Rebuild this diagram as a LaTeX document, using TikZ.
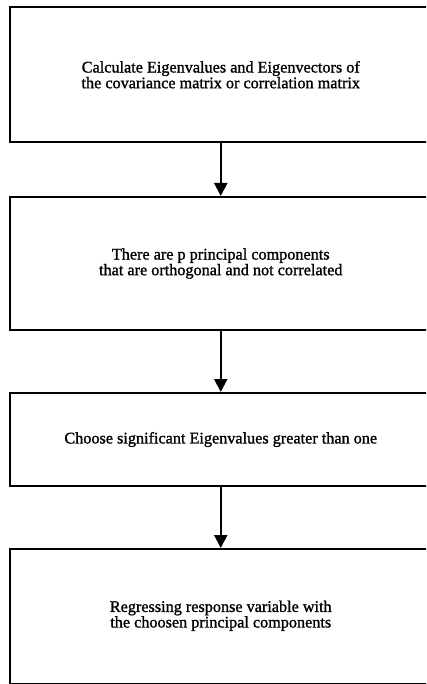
\documentclass[tikz,border=0pt]{standalone}
\usepackage{fontspec}
\setmainfont{Liberation Serif}
\newfontfamily\heavyserif{Liberation Serif}[FakeBold=1.2]
\usetikzlibrary{arrows.meta}
\begin{document}
\begin{tikzpicture}[x=1pt,y=-1pt,
  box/.style={draw=black, line width=2pt, minimum width=422.5pt, align=center,
    font=\heavyserif\fontsize{16.2}{14.5}\selectfont, inner sep=0pt},
  flow/.style={draw=black, line width=2pt, -{Triangle[width=13pt,length=13pt]}}]
\useasboundingbox (0,0) rectangle (426,684);
\clip (0,0) rectangle (426,684);
\node[box, minimum height=134.5pt] (b1) at (220.75,74.75)
  {Calculate Eigenvalues and Eigenvectors of\\the covariance matrix or correlation matrix};
\node[box, minimum height=133pt] (b2) at (220.75,263.5)
  {There are p principal components\\that are orthogonal and not correlated};
\node[box, minimum height=93pt] (b3) at (220.75,439.5)
  {Choose significant Eigenvalues greater than one};
\node[box, minimum height=134.5pt] (b4) at (220.75,616.25)
  {\raisebox{6pt}{\begin{tabular}{@{}c@{}}Regressing response variable with\\the choosen principal components\end{tabular}}};
\draw[flow] (b1) -- (b2);
\draw[flow] (b2) -- (b3);
\draw[flow] (b3) -- (b4);
\end{tikzpicture}
\end{document}
